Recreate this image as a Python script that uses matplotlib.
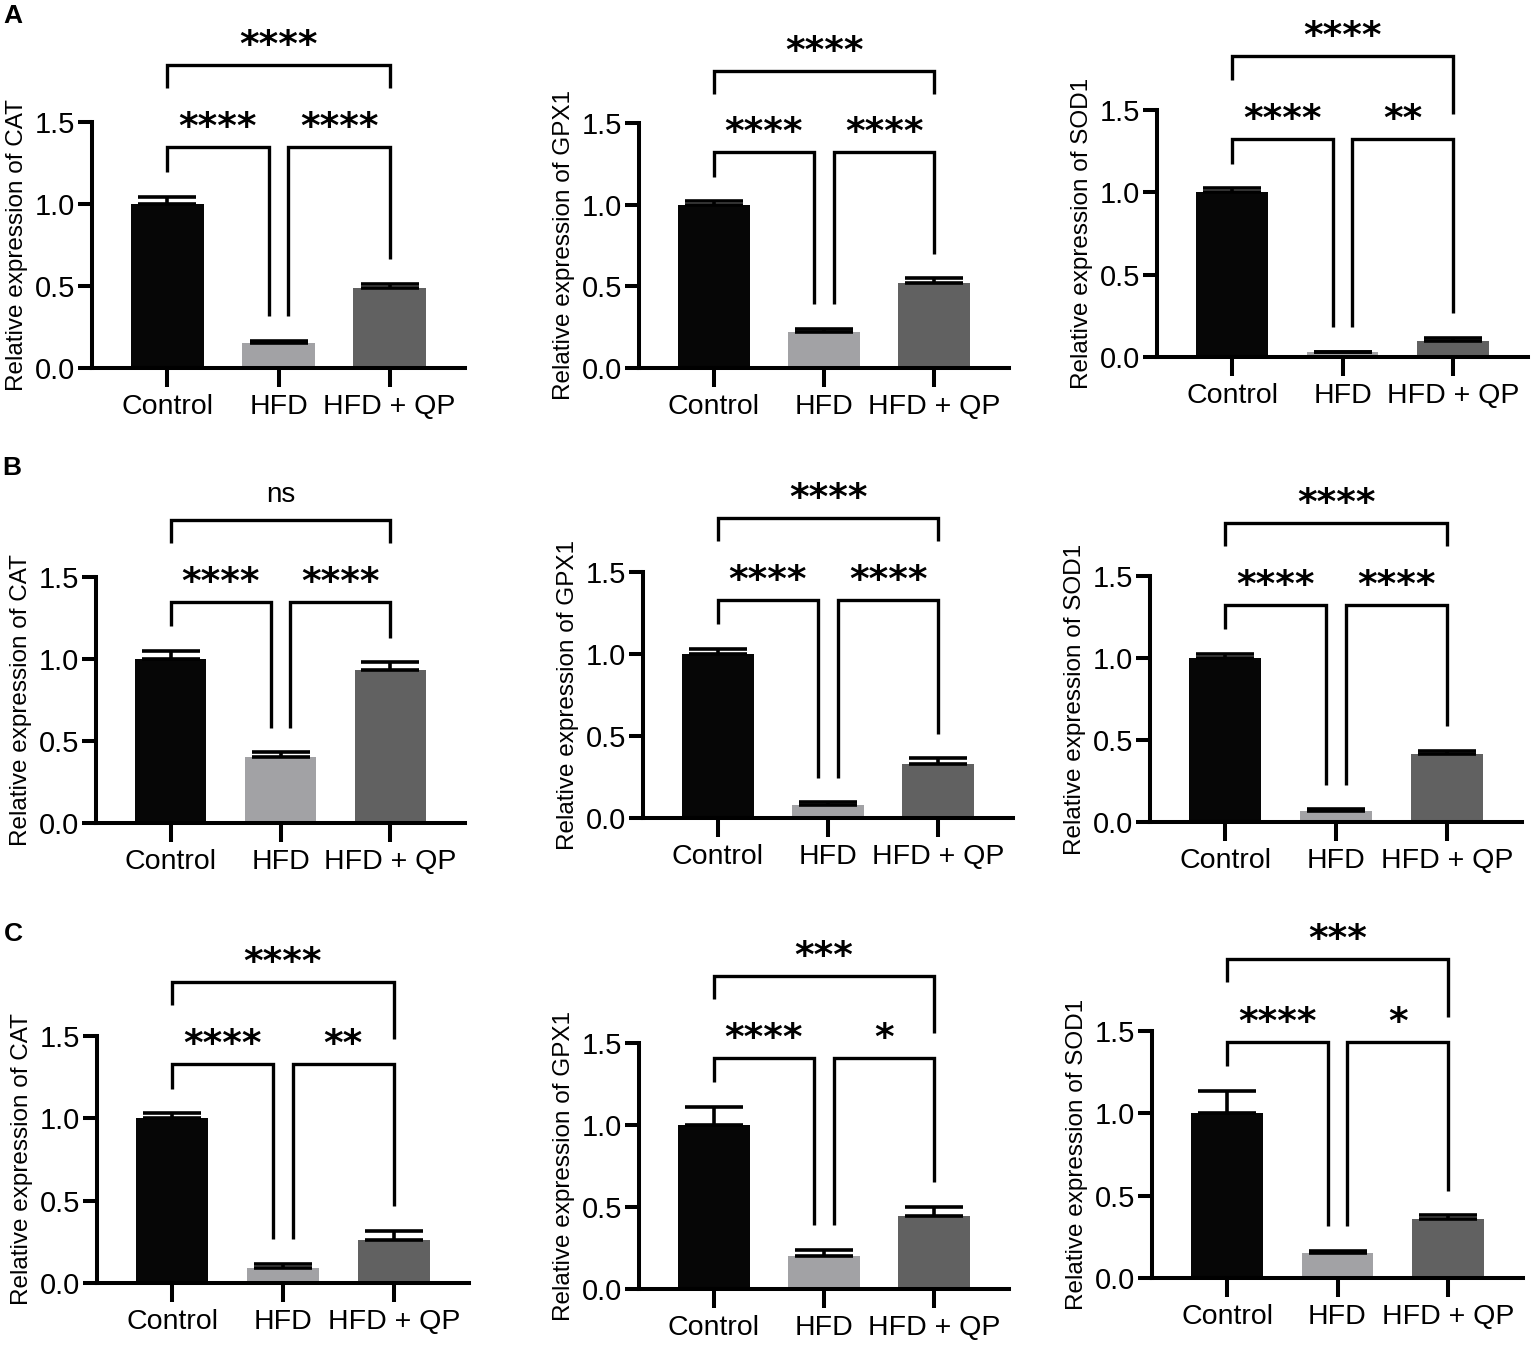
import matplotlib.pyplot as plt

plt.rcParams['font.family'] = ['Liberation Sans', 'DejaVu Sans']

groups = ['Control', 'HFD', 'HFD + QP']
genes = ['CAT', 'GPX1', 'SOD1']
rows = ['A', 'B', 'C']

# mean and upper error (SEM) for each panel
cat_a = [1.00, 0.15, 0.49]
cat_a_err = [0.045, 0.015, 0.024]
gpx1_a = [1.00, 0.22, 0.52]
gpx1_a_err = [0.02, 0.02, 0.03]
sod1_a = [1.00, 0.03, 0.10]
sod1_a_err = [0.025, 0.003, 0.015]

cat_b = [1.00, 0.40, 0.93]
cat_b_err = [0.05, 0.03, 0.05]
gpx1_b = [1.00, 0.08, 0.33]
gpx1_b_err = [0.03, 0.015, 0.035]
sod1_b = [1.00, 0.067, 0.415]
sod1_b_err = [0.025, 0.01, 0.02]

cat_c = [1.00, 0.09, 0.26]
cat_c_err = [0.03, 0.025, 0.055]
gpx1_c = [1.00, 0.20, 0.445]
gpx1_c_err = [0.11, 0.04, 0.055]
sod1_c = [1.00, 0.15, 0.36]
sod1_c_err = [0.135, 0.015, 0.02]

# significance: Control vs HFD, HFD vs HFD+QP, Control vs HFD+QP
sig_cat_a = ['****', '****', '****']
sig_gpx1_a = ['****', '****', '****']
sig_sod1_a = ['****', '**', '****']
sig_cat_b = ['****', '****', 'ns']
sig_gpx1_b = ['****', '****', '****']
sig_sod1_b = ['****', '****', '****']
sig_cat_c = ['****', '**', '****']
sig_gpx1_c = ['****', '*', '***']
sig_sod1_c = ['****', '*', '***']

panels = [
    [(cat_a, cat_a_err, sig_cat_a), (gpx1_a, gpx1_a_err, sig_gpx1_a), (sod1_a, sod1_a_err, sig_sod1_a)],
    [(cat_b, cat_b_err, sig_cat_b), (gpx1_b, gpx1_b_err, sig_gpx1_b), (sod1_b, sod1_b_err, sig_sod1_b)],
    [(cat_c, cat_c_err, sig_cat_c), (gpx1_c, gpx1_c_err, sig_gpx1_c), (sod1_c, sod1_c_err, sig_sod1_c)],
]

# axes boxes in pixels: left spine, right end, y at 1.5, y at 0
boxes = [
    [(92, 465, 122, 368), (639, 1009, 123, 368), (1157, 1528, 110, 357)],
    [(96, 465, 577, 823), (643, 1013, 572, 818), (1150, 1522, 576, 822)],
    [(97, 469, 1036, 1283), (639, 1009, 1043, 1289), (1152, 1523, 1031, 1278)],
]
letter_pos = [(13, 16), (12, 468), (13, 934)]

colors = ['#060606', '#a2a2a5', '#616161']
W, H = 1532, 1345
LW = 2.9
BLW = 2.4

fig = plt.figure(figsize=(W / 100, H / 100), dpi=100)


def sig_text(ax, x, y, label):
    if label == 'ns':
        ax.annotate(label, xy=(x, y), xytext=(0, 13), textcoords='offset points',
                    ha='center', va='baseline', fontsize=20, annotation_clip=False)
    else:
        ax.annotate(label, xy=(x, y), xytext=(0, 6.5), textcoords='offset points',
                    ha='center', va='baseline', fontsize=27, fontweight='bold',
                    family='DejaVu Sans', annotation_clip=False)


def bracket(ax, xa, xb, y, ya, yb, label):
    ax.plot([xa, xa, xb, xb], [ya, y, y, yb], color='black', lw=BLW,
            clip_on=False, solid_joinstyle='miter', solid_capstyle='butt')
    sig_text(ax, (xa + xb) / 2, y, label)


for i, r in enumerate(rows):
    for j, g in enumerate(genes):
        vals, errs, sig = panels[i][j]
        x0, x1, yt, yb = boxes[i][j]
        ax = fig.add_axes([x0 / W, 1 - yb / H, (x1 - x0) / W, (yb - yt) / H])
        xs = list(range(len(groups)))
        ax.bar(xs, vals, width=0.65, color=colors, zorder=2)
        ax.errorbar(xs, vals, yerr=[[0] * 3, errs], fmt='none', ecolor='black',
                    elinewidth=2.6, capsize=21, capthick=2.6, zorder=3)
        ax.set_xlim(-0.68, 2.68)
        ax.set_ylim(0, 1.5)
        ax.set_yticks([0, 0.5, 1.0, 1.5])
        ax.set_yticklabels(['0.0', '0.5', '1.0', '1.5'])
        ax.set_xticks(xs)
        ax.set_xticklabels(groups)
        for s in ['top', 'right']:
            ax.spines[s].set_visible(False)
        for s in ['left', 'bottom']:
            ax.spines[s].set_linewidth(LW)
        ax.tick_params(axis='y', length=10, width=LW, labelsize=21, pad=2)
        ax.tick_params(axis='x', length=13.5, width=LW, labelsize=20.5, pad=5)
        ax.set_ylabel('Relative expression of ' + g, fontsize=17.5, labelpad=5)

        tops = [v + e for v, e in zip(vals, errs)]
        low = max(tops) + 0.3
        high = low + 0.5
        gap = 0.15
        bracket(ax, 0, 0.91, low, tops[0] + gap, tops[1] + gap, sig[0])
        bracket(ax, 1.09, 2, low, tops[1] + gap, tops[2] + gap, sig[1])
        right_leg = low + (0.36 if len(sig[1]) >= 4 else 0.15)
        bracket(ax, 0, 2, high, low + 0.36, right_leg, sig[2])

for r, (px, py) in zip(rows, letter_pos):
    fig.text(px / W, 1 - py / H, r, fontsize=19, fontweight='bold',
             ha='center', va='center')

fig.savefig('out.png', dpi=100)
